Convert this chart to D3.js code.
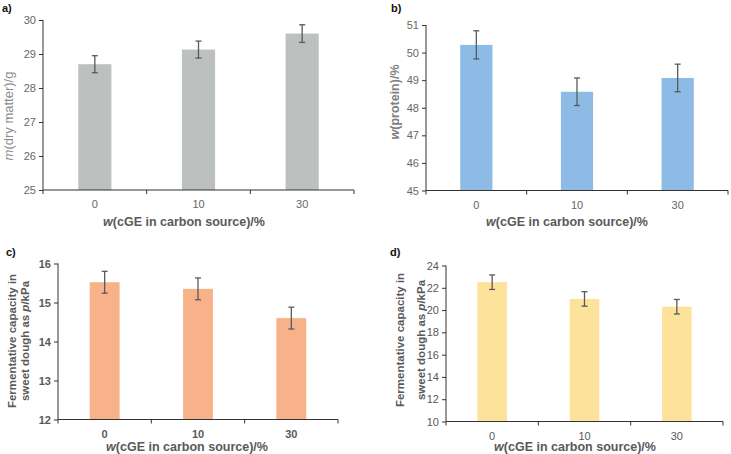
<!DOCTYPE html>
<html>
<head>
<meta charset="utf-8">
<script src="https://cdn.jsdelivr.net/npm/d3@7"></script>
<style>
  body { margin: 0; background: #fff; }
  svg { font-family: "Liberation Sans", Arial, sans-serif; }
</style>
</head>
<body>
<script>
const w = 731;
const h = 454;

// shared categories
const categories = ["0", "10", "30"];

// a) dry matter
const dryMatter = [28.7, 29.13, 29.6];
const dryMatterErr = [0.25, 0.25, 0.26];
const dryMatterTicks = [25, 26, 27, 28, 29, 30];

// b) protein
const protein = [50.28, 48.58, 49.08];
const proteinErr = [0.51, 0.5, 0.5];
const proteinTicks = [45, 46, 47, 48, 49, 50, 51];

// c) fermentative capacity (sweet dough), panel c
const fermentC = [15.52, 15.35, 14.6];
const fermentCErr = [0.28, 0.28, 0.28];
const fermentCTicks = [12, 13, 14, 15, 16];

// d) fermentative capacity (sweet dough), panel d
const fermentD = [22.5, 21.0, 20.3];
const fermentDErr = [0.65, 0.65, 0.65];
const fermentDTicks = [10, 12, 14, 16, 18, 20, 22, 24];

const svg = d3.select("body").append("svg").attr("width", w).attr("height", h);

function drawPanel(p) {
  const g = svg.append("g");

  const xScale = d3.scaleBand().domain(categories).range([p.left, p.right]).padding(0);
  const yScale = d3.scaleLinear()
    .domain([p.ticks[0], p.ticks[p.ticks.length - 1]])
    .range([p.bottom, p.top]);

  const barW = xScale.bandwidth() * 0.32;

  //bars
  g.selectAll("rect")
    .data(p.values)
    .enter()
    .append("rect")
    .attr("x", (d, i) => xScale(categories[i]) + xScale.bandwidth() / 2 - barW / 2)
    .attr("y", (d) => yScale(d))
    .attr("width", barW)
    .attr("height", (d) => p.bottom - yScale(d))
    .style("fill", p.color);

  //error bars
  const eb = g.selectAll("g.err")
    .data(p.values)
    .enter()
    .append("g")
    .attr("class", "err")
    .attr("transform", (d, i) => "translate(" + (xScale(categories[i]) + xScale.bandwidth() / 2) + ",0)");
  eb.append("line")
    .attr("x1", 0).attr("x2", 0)
    .attr("y1", (d, i) => yScale(d - p.errors[i]))
    .attr("y2", (d, i) => yScale(d + p.errors[i]));
  eb.append("line")
    .attr("x1", -3).attr("x2", 3)
    .attr("y1", (d, i) => yScale(d - p.errors[i]))
    .attr("y2", (d, i) => yScale(d - p.errors[i]));
  eb.append("line")
    .attr("x1", -3).attr("x2", 3)
    .attr("y1", (d, i) => yScale(d + p.errors[i]))
    .attr("y2", (d, i) => yScale(d + p.errors[i]));
  eb.selectAll("line").style("stroke", "#5a5a5a").style("stroke-width", 1.3);

  //axes
  const yAxis = d3.axisLeft(yScale).tickValues(p.ticks).tickSize(4).tickPadding(3).tickFormat(d3.format("d"));
  const ya = g.append("g").attr("transform", "translate(" + p.left + ",0)").call(yAxis);
  ya.select(".domain").attr("d", "M0," + p.top + "V" + p.bottom);

  const xa = g.append("g").attr("transform", "translate(0," + p.bottom + ")");
  xa.append("line").attr("x1", p.left).attr("x2", p.right).attr("y1", 0).attr("y2", 0);
  const bounds = categories.map((c) => xScale(c)).concat([p.right]);
  xa.selectAll("line.tk")
    .data(bounds)
    .enter()
    .append("line")
    .attr("class", "tk")
    .attr("x1", (d) => d).attr("x2", (d) => d)
    .attr("y1", 0).attr("y2", 4);
  xa.selectAll("line").style("stroke", "#333").style("stroke-width", 1);
  xa.selectAll("text")
    .data(categories)
    .enter()
    .append("text")
    .attr("x", (d) => xScale(d) + xScale.bandwidth() / 2)
    .attr("y", 18)
    .attr("text-anchor", "middle")
    .text((d) => d);

  g.selectAll(".domain, .tick line").style("stroke", "#333").style("stroke-width", 1);
  g.selectAll("text")
    .style("font-size", "11px")
    .style("fill", p.tickColor)
    .style("font-weight", p.tickWeight)
    .style("font-family", "'Liberation Sans', Arial, sans-serif");

  //panel letter
  svg.append("text")
    .attr("x", p.letterX).attr("y", p.letterY)
    .style("font-size", "11px").style("font-weight", "bold").style("fill", "#111")
    .text(p.letter);

  //x title
  const xt = svg.append("text")
    .attr("x", p.xTitleX).attr("y", p.xTitleY)
    .attr("text-anchor", "middle")
    .style("font-size", "12.5px").style("font-weight", "bold").style("fill", "#595959");
  xt.append("tspan").style("font-style", "italic").text("w");
  xt.append("tspan").text("(cGE in carbon source)/%");

  //y title
  p.yTitle.forEach((line) => {
    const t = svg.append("text")
      .attr("transform", "translate(" + line.x + "," + p.yTitleY + ") rotate(-90)")
      .attr("text-anchor", "middle")
      .style("font-size", p.yTitleSize).style("font-weight", p.yTitleWeight).style("fill", p.yTitleColor);
    line.parts.forEach((part) => {
      t.append("tspan").style("font-style", part.italic ? "italic" : "normal").text(part.text);
    });
  });
}

drawPanel({
  values: dryMatter, errors: dryMatterErr, ticks: dryMatterTicks,
  left: 43, right: 354, top: 20, bottom: 190, color: "#bcc1bf",
  tickColor: "#666", tickWeight: "normal",
  letter: "a)", letterX: 2, letterY: 12,
  xTitleX: 184, xTitleY: 226,
  yTitleY: 116, yTitleSize: "13px", yTitleWeight: "normal", yTitleColor: "#8c8c8c",
  yTitle: [{ x: 13, parts: [{ text: "m", italic: true }, { text: "(dry matter)/g" }] }]
});

drawPanel({
  values: protein, errors: proteinErr, ticks: proteinTicks,
  left: 426, right: 728, top: 25, bottom: 190.5, color: "#8dbbe6",
  tickColor: "#666", tickWeight: "normal",
  letter: "b)", letterX: 391, letterY: 12,
  xTitleX: 567, xTitleY: 226,
  yTitleY: 102, yTitleSize: "12.5px", yTitleWeight: "bold", yTitleColor: "#7f7f7f",
  yTitle: [{ x: 399, parts: [{ text: "w", italic: true }, { text: "(protein)/%" }] }]
});

drawPanel({
  values: fermentC, errors: fermentCErr, ticks: fermentCTicks,
  left: 58, right: 338, top: 263.5, bottom: 419.5, color: "#f8b28a",
  tickColor: "#595959", tickWeight: "bold",
  letter: "c)", letterX: 6, letterY: 256,
  xTitleX: 187, xTitleY: 451,
  yTitleY: 341, yTitleSize: "11.5px", yTitleWeight: "bold", yTitleColor: "#595959",
  yTitle: [
    { x: 16, parts: [{ text: "Fermentative capacity in" }] },
    { x: 29, parts: [{ text: "sweet dough as " }, { text: "p", italic: true }, { text: "/kPa" }] }
  ]
});

drawPanel({
  values: fermentD, errors: fermentDErr, ticks: fermentDTicks,
  left: 446, right: 723, top: 265.5, bottom: 421.5, color: "#fde29c",
  tickColor: "#595959", tickWeight: "normal",
  letter: "d)", letterX: 390, letterY: 256,
  xTitleX: 575, xTitleY: 451,
  yTitleY: 340, yTitleSize: "11.5px", yTitleWeight: "bold", yTitleColor: "#595959",
  yTitle: [
    { x: 404, parts: [{ text: "Fermentative capacity in" }] },
    { x: 425, parts: [{ text: "sweet dough as " }, { text: "p", italic: true }, { text: "/kPa" }] }
  ]
});
</script>
</body>
</html>
